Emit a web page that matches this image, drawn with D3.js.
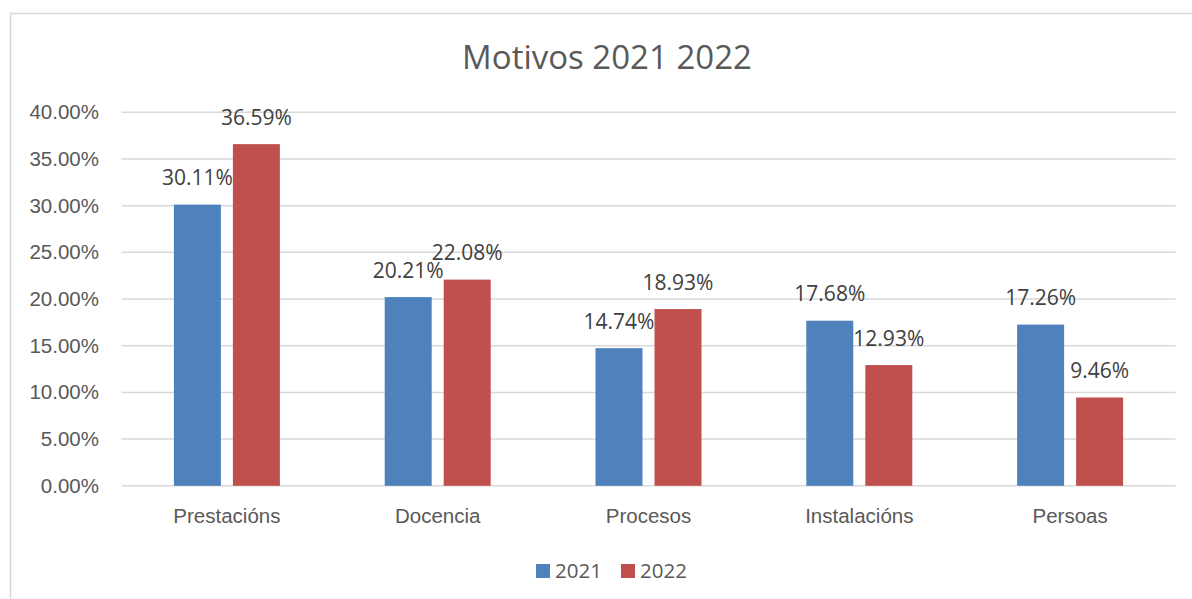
<!DOCTYPE html>
<html>
<head>
<meta charset="utf-8">
<script src="https://cdn.jsdelivr.net/npm/d3@7"></script>
<style>
  body { margin: 0; background: #fff; }
  svg { display: block; font-family: "Open Sans", sans-serif; }
</style>
</head>
<body>
<svg id="chart" width="1192" height="599"></svg>
<script>
const categories = ["Prestacións", "Docencia", "Procesos", "Instalacións", "Persoas"];
const seriesNames = ["2021", "2022"];
const values2021 = [30.11, 20.21, 14.74, 17.68, 17.26];
const values2022 = [36.59, 22.08, 18.93, 12.93, 9.46];
const yTicks = [0, 5, 10, 15, 20, 25, 30, 35, 40];
const colors = ["#4f81bd", "#c0504d"];

const svg = d3.select("#chart");
const textColor = "#595959";

// chart border
svg.append("rect")
  .attr("x", 10.5).attr("y", 13.5)
  .attr("width", 1200).attr("height", 620)
  .attr("fill", "none")
  .attr("stroke", "#d9d9d9")
  .attr("stroke-width", 1.5);

const margin = { left: 121.5, right: 1175.5, top: 112.3, bottom: 485.8 };

const x = d3.scaleBand()
  .domain(categories)
  .range([margin.left, margin.right]);

// two bars of ~47px with a ~12px gap, centred in each category
const groupPad = (x.bandwidth() - 106) / 2;
const x1 = d3.scaleBand()
  .domain(seriesNames)
  .range([groupPad, x.bandwidth() - groupPad])
  .paddingInner(12 / 59);

const y = d3.scaleLinear()
  .domain([0, 40])
  .range([margin.bottom, margin.top]);

// title
svg.append("text")
  .attr("x", 607).attr("y", 69)
  .attr("text-anchor", "middle")
  .attr("fill", textColor)
  .attr("font-size", 33)
  .text("Motivos 2021 2022");

// gridlines
svg.append("g")
  .selectAll("line")
  .data(yTicks)
  .join("line")
  .attr("x1", margin.left).attr("x2", margin.right)
  .attr("y1", d => y(d)).attr("y2", d => y(d))
  .attr("stroke", "#d9d9d9")
  .attr("stroke-width", 1.5);

// y axis labels
const yAxis = d3.axisLeft(y)
  .tickValues(yTicks)
  .tickFormat(d => d.toFixed(2) + "%")
  .tickSize(0)
  .tickPadding(0);

svg.append("g")
  .attr("transform", `translate(99,0)`)
  .call(yAxis)
  .call(g => g.select(".domain").remove())
  .call(g => g.selectAll("text")
    .attr("fill", textColor)
    .attr("font-size", 20.5)
    .attr("font-family", null));

// x axis labels
const xAxis = d3.axisBottom(x).tickSize(0).tickPadding(0);
svg.append("g")
  .attr("transform", `translate(0,${margin.bottom})`)
  .call(xAxis)
  .call(g => g.select(".domain").remove())
  .call(g => g.selectAll("text")
    .attr("fill", textColor)
    .attr("font-size", 20.5)
    .attr("font-family", null)
    .attr("dy", null)
    .attr("y", 37.5));

const data = categories.map((c, i) => ({
  category: c,
  items: [
    { key: "2021", value: values2021[i] },
    { key: "2022", value: values2022[i] }
  ]
}));

const groups = svg.append("g")
  .selectAll("g")
  .data(data)
  .join("g")
  .attr("transform", d => `translate(${x(d.category)},0)`);

groups.selectAll("rect")
  .data(d => d.items)
  .join("rect")
  .attr("x", d => x1(d.key))
  .attr("y", d => y(d.value))
  .attr("width", x1.bandwidth())
  .attr("height", d => y(0) - y(d.value))
  .attr("fill", (d, i) => colors[i]);

groups.selectAll("text")
  .data(d => d.items)
  .join("text")
  .attr("x", d => x1(d.key) + x1.bandwidth() / 2)
  .attr("y", d => y(d.value) - 19.5)
  .attr("text-anchor", "middle")
  .attr("fill", "#404040")
  .attr("font-size", 21)
  .text(d => d.value.toFixed(2) + "%");

// legend
const legend = svg.append("g").attr("transform", "translate(536,564)");
const legendX = [0, 85];
seriesNames.forEach((name, i) => {
  const item = legend.append("g").attr("transform", `translate(${legendX[i]},0)`);
  item.append("rect")
    .attr("width", 14).attr("height", 14)
    .attr("fill", colors[i]);
  item.append("text")
    .attr("x", 19).attr("y", 14)
    .attr("fill", textColor)
    .attr("font-size", 20.5)
    .text(name);
});
</script>
</body>
</html>
